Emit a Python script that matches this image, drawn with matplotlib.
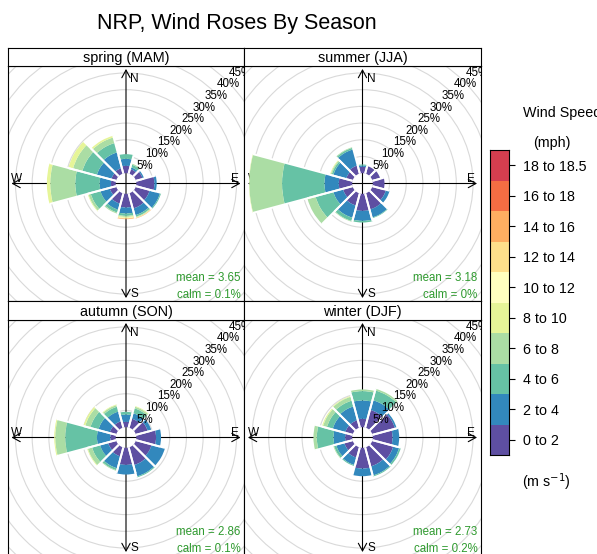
import numpy as np
import matplotlib
matplotlib.use("Agg")
import matplotlib.pyplot as plt
from matplotlib.patches import Wedge, Circle

plt.rcParams['font.family'] = ['Liberation Sans', 'DejaVu Sans']

# wind direction of each sector (degrees from north)
directions = [0, 30, 60, 90, 120, 150, 180, 210, 240, 270, 300, 330]

speed_bins = ["0 to 2", "2 to 4", "4 to 6", "6 to 8", "8 to 10",
              "10 to 12", "12 to 14", "14 to 16", "16 to 18", "18 to 18.5"]
bin_colors = ["#5E4FA2", "#3288BD", "#66C2A5", "#ABDDA4", "#E6F598",
              "#FFFFBF", "#FEE08B", "#FDAE61", "#F46D43", "#D53E4F"]

seasons = ["spring (MAM)", "summer (JJA)", "autumn (SON)", "winter (DJF)"]
mean_speed = ["3.65", "3.18", "2.86", "2.73"]
calm_pct = ["0.1%", "0%", "0.1%", "0.2%"]

# % of time per direction, split by speed bin (0-2, 2-4, 4-6, ...)
spring_freq = [
    [2.2, 2.1, 1.4],
    [1.4, 0.6, 0.8, 0.3],
    [2.1, 0.4],
    [5.4, 0.7],
    [4.3, 3.2, 0.3],
    [4.7, 2.1, 0.5, 0.2, 0.1, 0.0, 0.1, 0.1],
    [4.1, 1.8, 0.7, 0.3, 0.3, 0.1, 0.1, 0.2],
    [3.2, 1.9, 0.9, 0.3],
    [2.0, 2.9, 3.0, 0.7, 0.2],
    [1.4, 3.4, 7.3, 7.5, 1.0],
    [1.5, 4.5, 4.5, 2.9, 1.4],
    [1.7, 4.9, 2.9, 1.7, 0.5],
]
summer_freq = [
    [1.9, 0.4, 0.3],
    [2.3],
    [2.4],
    [3.5],
    [4.2, 1.1],
    [5.0, 2.5, 0.2],
    [5.1, 3.0, 0.5],
    [3.8, 3.8, 1.0, 0.2],
    [3.0, 3.0, 5.5, 2.5],
    [4.0, 4.3, 12.7, 9.8, 0.1],
    [2.0, 4.0, 0.5, 0.3, 0.2],
    [2.5, 5.0, 0.5, 0.2],
]
autumn_freq = [
    [1.6, 2.2, 0.8],
    [2.8, 1.7, 1.5, 0.5, 0.2],
    [3.7, 1.1],
    [5.9, 1.5],
    [4.9, 4.1],
    [5.5, 3.5, 0.3],
    [5.1, 2.9],
    [2.8, 3.7, 0.6, 0.2],
    [2.5, 2.5, 2.5, 1.3, 0.2],
    [1.6, 4.0, 9.5, 3.0, 0.3],
    [2.0, 3.5, 2.5, 1.6, 0.5],
    [2.0, 3.0, 1.5, 0.5, 0.2],
]
winter_freq = [
    [2.5, 5.5, 2.8, 0.5],
    [5.5, 3.0, 3.0, 0.5],
    [7.0, 0.5],
    [5.9, 2.0],
    [6.5, 1.8, 0.5],
    [5.9, 2.8, 0.3],
    [6.2, 2.3],
    [3.2, 2.3, 0.3],
    [2.6, 2.5, 0.7, 0.2],
    [2.1, 3.5, 5.0, 1.0],
    [2.3, 3.9, 1.8, 1.2, 0.3],
    [2.3, 4.3, 1.8, 1.2, 0.2],
]
season_freq = [spring_freq, summer_freq, autumn_freq, winter_freq]

W, H = 597, 554
PX = 3.34          # pixels per percent unit
max_total = max(sum(r) for f in season_freq for r in f)
offset = 0.1 * max_total
arrow_len = 34.3


def box(x0, y0, x1, y1):
    return [x0 / W, 1 - y1 / H, (x1 - x0) / W, (y1 - y0) / H]


def draw_rose(ax, freq, mean, calm, w_px, h_px):
    ax.set_xlim(-w_px / 2 / PX, w_px / 2 / PX)
    ax.set_ylim(-h_px / 2 / PX, h_px / 2 / PX)
    ax.set_xticks([])
    ax.set_yticks([])
    for s in ax.spines.values():
        s.set_linewidth(0.8)

    for k in range(5, 55, 5):
        ax.add_patch(Circle((0, 0), offset + k, fill=False, ec="#d9d9d9",
                            lw=0.8, zorder=1))

    aprops = dict(arrowstyle="<->,head_length=0.55,head_width=0.3", lw=0.8,
                  color="black", shrinkA=0, shrinkB=0, mutation_scale=10)
    ax.annotate("", xy=(arrow_len, 0), xytext=(-arrow_len, 0),
                arrowprops=aprops, zorder=2)
    ax.annotate("", xy=(0, arrow_len), xytext=(0, -arrow_len),
                arrowprops=aprops, zorder=2)
    ax.text(1.3, 33.1, "N", ha="left", va="top", fontsize=8.5)
    ax.text(1.4, -34.0, "S", ha="left", va="baseline", fontsize=8.5)
    ax.text(31.4, 0.3, "E", ha="left", va="baseline", fontsize=8.5)
    ax.text(-34.3, 0.3, "W", ha="left", va="baseline", fontsize=8.5)

    for d, row in zip(directions, freq):
        theta = 90 - d
        inner = offset
        for val, col in zip(row, bin_colors):
            if val <= 0:
                continue
            ax.add_patch(Wedge((0, 0), inner + val, theta - 15, theta + 15,
                               width=val, fc=col, ec="none", zorder=3))
            inner += val
        for edge in (theta - 15, theta + 15):
            a = np.radians(edge)
            ax.plot([offset * np.cos(a), inner * np.cos(a)],
                    [offset * np.sin(a), inner * np.sin(a)],
                    color="white", lw=1.4, zorder=4, solid_capstyle="butt")

    a = np.radians(44)
    for k in range(5, 50, 5):
        r = offset + k - 0.4
        lab = f"{k}%"
        ax.text(r * np.cos(a), r * np.sin(a), lab, ha="center", va="center",
                fontsize=8.3, zorder=5, clip_on=True)

    ax.text(0.985, 0.087, f"mean = {mean}", transform=ax.transAxes,
            ha="right", va="baseline", fontsize=8.3, color="#2e9a2e")
    ax.text(0.985, 0.013, f"calm = {calm}", transform=ax.transAxes,
            ha="right", va="baseline", fontsize=8.3, color="#2e9a2e")


fig = plt.figure(figsize=(W / 100, H / 100), dpi=100)

panels = [(8, 244, 66, 301, 48), (244, 481, 66, 301, 48),
          (8, 244, 320, 555, 301), (244, 481, 320, 555, 301)]

for (x0, x1, y0, y1, sy), name, freq, m, c in zip(panels, seasons, season_freq,
                                                  mean_speed, calm_pct):
    ax = fig.add_axes(box(x0, y0, x1, y1))
    draw_rose(ax, freq, m, c, x1 - x0, y1 - y0)
    strip = fig.add_axes(box(x0, sy, x1, y0))
    strip.set_xticks([])
    strip.set_yticks([])
    for s in strip.spines.values():
        s.set_linewidth(0.8)
    strip.text(0.5, 0.2, name, ha="center", va="baseline", fontsize=10.4,
               transform=strip.transAxes)

fig.text(236.5 / W, 1 - 28.5 / H, "NRP, Wind Roses By Season", ha="center",
         va="baseline", fontsize=15.5)

# colour key
cax = fig.add_axes(box(490, 150, 509, 455))
n = len(speed_bins)
cax.bar(np.zeros(n), np.ones(n), bottom=np.arange(n), width=1,
        color=bin_colors, edgecolor="none")
cax.set_xlim(-0.5, 0.5)
cax.set_ylim(0, n)
cax.set_xticks([])
cax.yaxis.tick_right()
cax.set_yticks(np.arange(n) + 0.5)
cax.set_yticklabels(speed_bins, fontsize=10.3)
cax.tick_params(axis="y", length=4.5, width=0.8, pad=5.5)
for s in cax.spines.values():
    s.set_linewidth(0.8)

fig.text(523 / W, 1 - 116.5 / H, "Wind Speed", ha="left", va="baseline",
         fontsize=10.3)
fig.text(552 / W, 1 - 146.5 / H, "(mph)", ha="center", va="baseline",
         fontsize=10.3)
fig.text(546 / W, 1 - 487 / H, r"(m s$^{-1}$)", ha="center", va="baseline",
         fontsize=10.3)

fig.savefig("out.png", dpi=100)
